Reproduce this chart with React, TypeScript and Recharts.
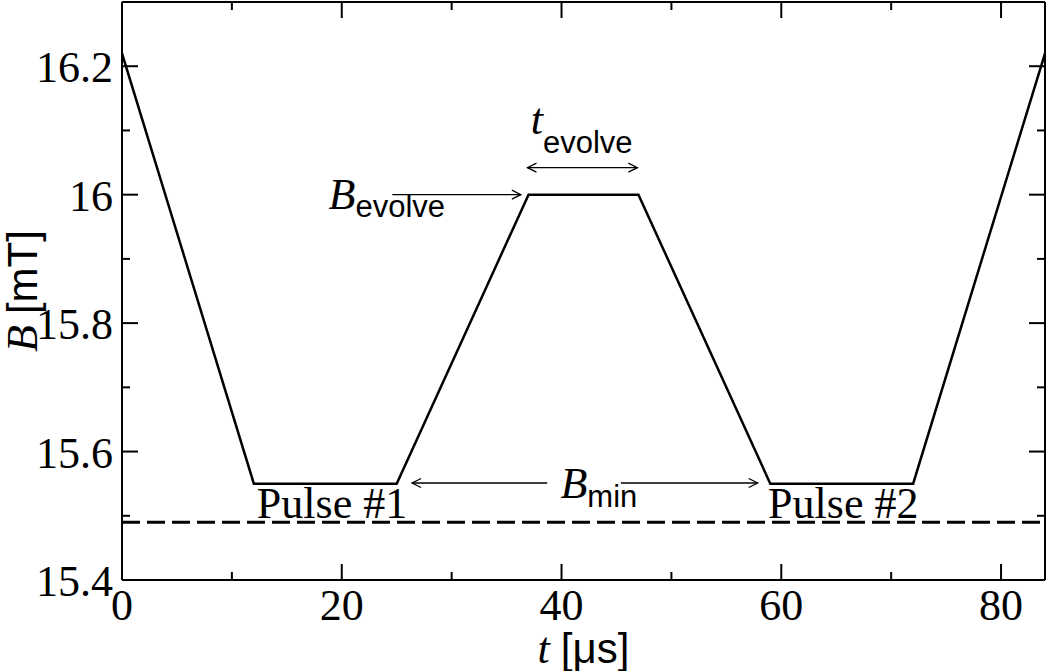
import React from 'react';
import { ComposedChart, Line, XAxis, YAxis, ReferenceLine, ReferenceDot } from 'recharts';

// pulse sequence: field ramps between the two imaging pulses
const times = [0, 12, 25, 37, 47, 59, 72, 84];
const field = [16.22, 15.55, 15.55, 16.0, 16.0, 15.55, 15.55, 16.22];
const minLevel = 15.49;

const xTicks = [0, 10, 20, 30, 40, 50, 60, 70, 80];
const yTicks = [15.4, 15.5, 15.6, 15.7, 15.8, 15.9, 16.0, 16.1, 16.2];

const data = times.map((t, i) => ({ t, b: field[i] }));
const dashed = [{ t: 0, b: minLevel }, { t: 84, b: minLevel }];

const SERIF = '"Liberation Serif", "Times New Roman", serif';
const SANS = '"Liberation Sans", Arial, sans-serif';

const isMajorX = (v: number) => v % 20 === 0;
const isMajorY = (v: number) => Math.round(v * 10) % 2 === 0;

const BottomTick = (props: any) => {
  const { x, y, payload } = props;
  const major = isMajorX(payload.value);
  return (
    <g>
      <line x1={x} y1={y} x2={x} y2={y - (major ? 16 : 8)} stroke="#000" strokeWidth={2} />
      {major && (
        <text x={x} y={y + 40} textAnchor="middle" fontFamily={SERIF} fontSize={44} fill="#000">
          {payload.value}
        </text>
      )}
    </g>
  );
};

const TopTick = (props: any) => {
  const { x, y, payload } = props;
  const major = isMajorX(payload.value);
  return <line x1={x} y1={y} x2={x} y2={y + (major ? 16 : 8)} stroke="#000" strokeWidth={2} />;
};

const LeftTick = (props: any) => {
  const { x, y, payload } = props;
  const major = isMajorY(payload.value);
  return (
    <g>
      <line x1={x} y1={y} x2={x + (major ? 16 : 8)} y2={y} stroke="#000" strokeWidth={2} />
      {major && (
        <text x={x - 9} y={y + 16} textAnchor="end" fontFamily={SERIF} fontSize={44} fill="#000">
          {String(payload.value)}
        </text>
      )}
    </g>
  );
};

const RightTick = (props: any) => {
  const { x, y, payload } = props;
  const major = isMajorY(payload.value);
  return <line x1={x} y1={y} x2={x - (major ? 16 : 8)} y2={y} stroke="#000" strokeWidth={2} />;
};

const head = (x: number, y: number, dir: number) => (
  <polyline
    points={`${x - dir * 9},${y - 4.5} ${x},${y} ${x - dir * 9},${y + 4.5}`}
    fill="none"
    stroke="#000"
    strokeWidth={1.3}
  />
);

const arrow = (both: boolean) => (p: any) => {
  const dir = p.x2 >= p.x1 ? 1 : -1;
  return (
    <g>
      <line x1={p.x1} y1={p.y1} x2={p.x2} y2={p.y2} stroke="#000" strokeWidth={1.3} />
      {head(p.x2, p.y2, dir)}
      {both && head(p.x1, p.y1, -dir)}
    </g>
  );
};

const subLabel = (main: string, sub: string, dy: number) => (p: any) => (
  <text x={p.cx} y={p.cy} fill="#000">
    <tspan fontFamily={SERIF} fontStyle="italic" fontSize={44}>{main}</tspan>
    <tspan fontFamily={SANS} fontSize={31} dy={dy}>{sub}</tspan>
  </text>
);

const plainLabel = (txt: string) => (p: any) => (
  <text x={p.cx} y={p.cy} fontFamily={SERIF} fontSize={44} fill="#000">{txt}</text>
);

const XTitle = (props: any) => {
  const { x, width } = props.viewBox;
  return (
    <text x={x + width / 2} y={663} textAnchor="middle" fill="#000" fontSize={44}>
      <tspan fontFamily={SERIF} fontStyle="italic">t</tspan>
      <tspan fontFamily={SERIF}> </tspan>
      <tspan fontFamily={SANS} fontSize={42}>[μs]</tspan>
    </text>
  );
};

const YTitle = (props: any) => {
  const { y, height } = props.viewBox;
  const cy = y + height / 2;
  return (
    <text x={37} y={cy} textAnchor="middle" fill="#000" fontSize={44} transform={`rotate(-90, 37, ${cy})`}>
      <tspan fontFamily={SERIF} fontStyle="italic">B</tspan>
      <tspan fontFamily={SERIF}> </tspan>
      <tspan fontFamily={SANS} fontSize={42}>[mT]</tspan>
    </text>
  );
};

export default function App() {
  return (
    <div style={{ position: 'absolute', left: 0, top: 0, background: '#fff' }}>
      <ComposedChart width={1046} height={671} data={data} margin={{ top: 0, right: 0, left: 0, bottom: 0 }}>
        <XAxis
          dataKey="t"
          type="number"
          domain={[0, 84]}
          ticks={xTicks}
          allowDataOverflow
          height={91}
          tickSize={0}
          tickMargin={0}
          tickLine={false}
          axisLine={{ stroke: '#000', strokeWidth: 2 }}
          tick={<BottomTick />}
          interval={0}
          label={{ content: <XTitle /> }}
        />
        <XAxis
          xAxisId="top"
          orientation="top"
          dataKey="t"
          type="number"
          domain={[0, 84]}
          ticks={xTicks}
          allowDataOverflow
          height={2}
          tickSize={0}
          tickMargin={0}
          tickLine={false}
          axisLine={{ stroke: '#000', strokeWidth: 2 }}
          tick={<TopTick />}
          interval={0}
        />
        <YAxis
          type="number"
          domain={[15.4, 16.3]}
          ticks={yTicks}
          allowDataOverflow
          width={122}
          tickSize={0}
          tickMargin={0}
          tickLine={false}
          axisLine={{ stroke: '#000', strokeWidth: 2 }}
          tick={<LeftTick />}
          interval={0}
          label={{ content: <YTitle /> }}
        />
        <YAxis
          yAxisId="right"
          orientation="right"
          type="number"
          domain={[15.4, 16.3]}
          ticks={yTicks}
          allowDataOverflow
          width={1}
          tickSize={0}
          tickMargin={0}
          tickLine={false}
          axisLine={{ stroke: '#000', strokeWidth: 2 }}
          tick={<RightTick />}
          interval={0}
        />
        <Line
          xAxisId="top"
          yAxisId="right"
          data={dashed}
          dataKey="b"
          type="linear"
          stroke="#000"
          strokeWidth={3}
          strokeDasharray="18 7"
          dot={false}
          activeDot={false}
          isAnimationActive={false}
        />
        <Line
          dataKey="b"
          type="linear"
          stroke="#000"
          strokeWidth={2.5}
          dot={false}
          activeDot={false}
          isAnimationActive={false}
        />
        <ReferenceLine segment={[{ x: 24.6, y: 16.0 }, { x: 36.3, y: 16.0 }]} shape={arrow(false)} />
        <ReferenceLine segment={[{ x: 36.9, y: 16.042 }, { x: 46.9, y: 16.042 }]} shape={arrow(true)} />
        <ReferenceLine segment={[{ x: 38.7, y: 15.551 }, { x: 26.4, y: 15.551 }]} shape={arrow(false)} />
        <ReferenceLine segment={[{ x: 45.4, y: 15.551 }, { x: 57.85, y: 15.551 }]} shape={arrow(false)} />
        <ReferenceDot x={18.8} y={15.978} r={0} shape={subLabel('B', 'evolve', 8)} />
        <ReferenceDot x={37.2} y={16.095} r={0} shape={subLabel('t', 'evolve', 19)} />
        <ReferenceDot x={39.9} y={15.528} r={0} shape={subLabel('B', 'min', 9)} />
        <ReferenceDot x={12.27} y={15.497} r={0} shape={plainLabel('Pulse #1')} />
        <ReferenceDot x={58.8} y={15.497} r={0} shape={plainLabel('Pulse #2')} />
      </ComposedChart>
    </div>
  );
}
